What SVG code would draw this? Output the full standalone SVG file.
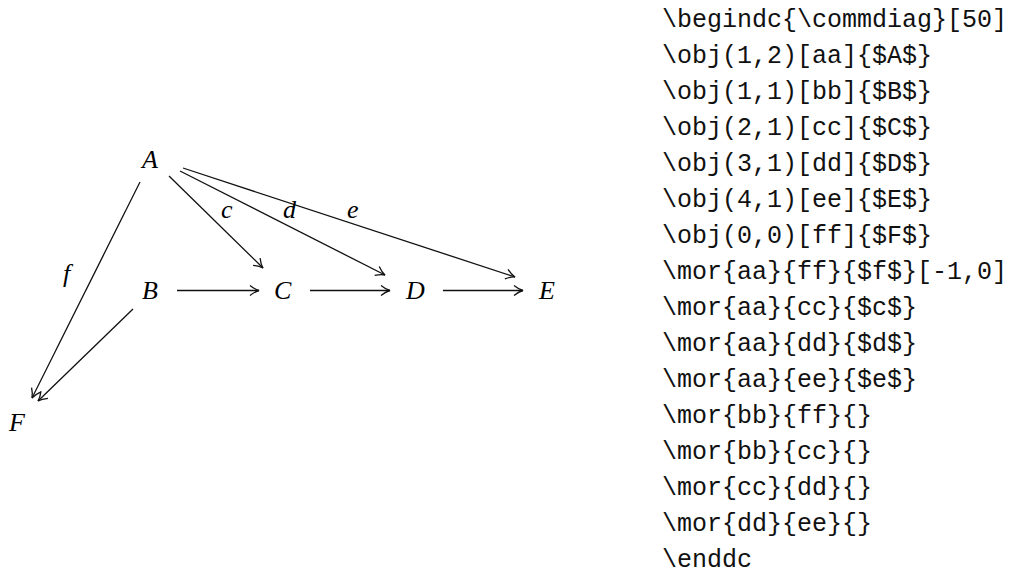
<svg xmlns="http://www.w3.org/2000/svg" width="1013" height="573" viewBox="0 0 1013 573">
<style>
.m{font-family:"Liberation Serif","Times New Roman",serif;font-style:italic;font-size:26px;fill:#000}
.c{font-family:"Liberation Mono","Courier New",monospace;font-size:25px;fill:#111}
.e{stroke:#111;stroke-width:1.3;fill:none;marker-end:url(#ah)}
</style>
<defs>
<marker id="ah" markerUnits="userSpaceOnUse" viewBox="-12 -7 14 14" refX="0" refY="0" markerWidth="14" markerHeight="14" orient="auto" overflow="visible">
<path d="M-9,-5 Q-4,-1 0,0 Q-4,1 -9,5" fill="none" stroke="#111" stroke-width="1.3"/>
</marker>
</defs>
<rect width="1013" height="573" fill="#fff"/>
<g id="connectors">
<line class="e" x1="140" y1="182" x2="32" y2="398"/>
<line class="e" x1="133" y1="309" x2="38" y2="401"/>
<line class="e" x1="169" y1="176" x2="263" y2="268"/>
<line class="e" x1="180" y1="171" x2="385" y2="275"/>
<line class="e" x1="183" y1="168" x2="515" y2="277"/>
<line class="e" x1="177" y1="290.5" x2="259" y2="290.5"/>
<line class="e" x1="310" y1="290.5" x2="390" y2="290.5"/>
<line class="e" x1="443" y1="290.5" x2="523" y2="290.5"/>
</g>
<g id="labels">
<text class="m" x="221" y="218">c</text>
<text class="m" x="283" y="218">d</text>
<text class="m" x="347" y="218">e</text>
<text class="m" x="63" y="282">f</text>
</g>
<g id="node-A"><text class="m" x="142" y="168">A</text></g>
<g id="node-B"><text class="m" x="142" y="299">B</text></g>
<g id="node-C"><text class="m" x="274" y="299">C</text></g>
<g id="node-D"><text class="m" x="406" y="299">D</text></g>
<g id="node-E"><text class="m" x="539" y="299">E</text></g>
<g id="node-F"><text class="m" x="9" y="431">F</text></g>
<g id="code">
<text class="c" x="662" y="27">\begindc{\commdiag}[50]</text>
<text class="c" x="662" y="63">\obj(1,2)[aa]{$A$}</text>
<text class="c" x="662" y="99">\obj(1,1)[bb]{$B$}</text>
<text class="c" x="662" y="135">\obj(2,1)[cc]{$C$}</text>
<text class="c" x="662" y="171">\obj(3,1)[dd]{$D$}</text>
<text class="c" x="662" y="207">\obj(4,1)[ee]{$E$}</text>
<text class="c" x="662" y="243">\obj(0,0)[ff]{$F$}</text>
<text class="c" x="662" y="279">\mor{aa}{ff}{$f$}[-1,0]</text>
<text class="c" x="662" y="315">\mor{aa}{cc}{$c$}</text>
<text class="c" x="662" y="351">\mor{aa}{dd}{$d$}</text>
<text class="c" x="662" y="387">\mor{aa}{ee}{$e$}</text>
<text class="c" x="662" y="423">\mor{bb}{ff}{}</text>
<text class="c" x="662" y="459">\mor{bb}{cc}{}</text>
<text class="c" x="662" y="495">\mor{cc}{dd}{}</text>
<text class="c" x="662" y="531">\mor{dd}{ee}{}</text>
<text class="c" x="662" y="567">\enddc</text>
</g>
</svg>
